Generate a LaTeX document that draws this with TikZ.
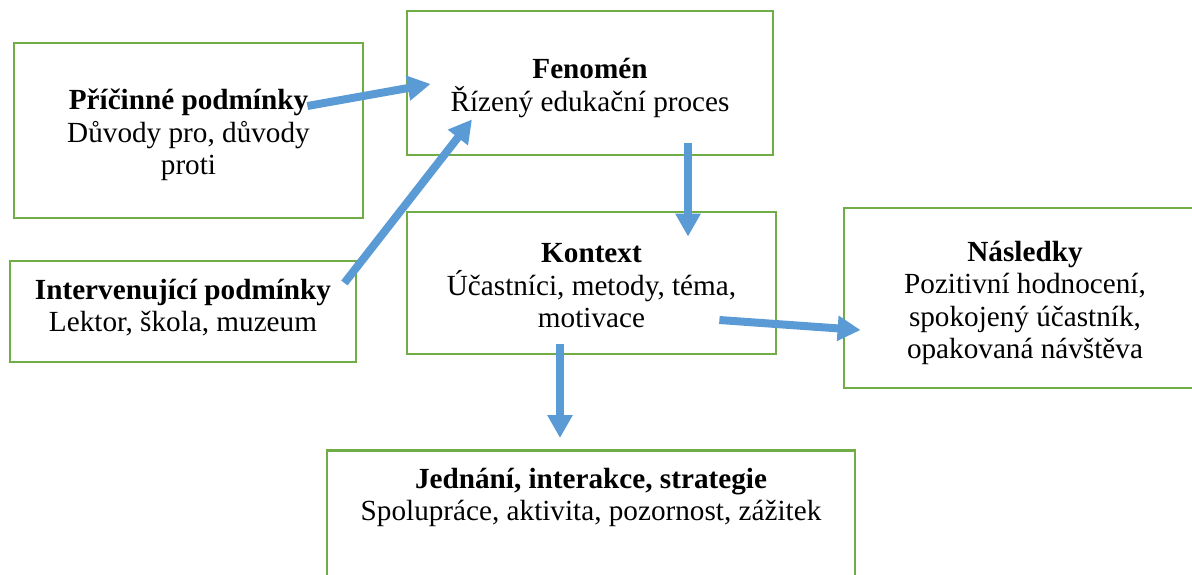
\documentclass[tikz,border=0pt]{standalone}
\usepackage{fontspec}
\setmainfont{Liberation Serif}
\usepackage{xcolor}
\usetikzlibrary{arrows.meta, positioning, calc}
\definecolor{boxgreen}{RGB}{112,173,71}
\definecolor{arrowblue}{RGB}{91,155,213}
% fixed first-line height and last-line depth
\newcommand{\lnhigh}{\rule{0pt}{30pt}}
\newcommand{\lndeep}[1][6pt]{\rule[-#1]{0pt}{#1}}

\begin{document}
\lineskiplimit=-20pt
\begin{tikzpicture}[x=1pt, y=-1pt,
  box/.style={draw=boxgreen, line width=2.8pt, align=center, inner sep=0pt,
    font=\fontsize{29.2}{32.5}\selectfont},
  flow/.style={draw=arrowblue, line width=8pt, -{Triangle[length=23pt,width=24pt]}}]
\useasboundingbox (0,0) rectangle (1192,574);
\clip (0,0) rectangle (1192,574);
% Conditions
\node[box, minimum width=349pt, minimum height=175pt] (pricinne) at (188.5,130.5)
  {\lnhigh\textbf{Příčinné podmínky}\\Důvody pro, důvody\\proti\lndeep};
\node[box, minimum width=346pt, minimum height=101pt] (intervenujici) at (183,311.5)
  {\lnhigh\textbf{Intervenující podmínky}\\Lektor, škola, muzeum\lndeep[22pt]};
% Centre column
\node[box, minimum width=366pt, minimum height=144pt] (fenomen) at (590,83)
  {\lnhigh\textbf{Fenomén}\\Řízený edukační proces\lndeep};
\node[box, minimum width=369pt, minimum height=142pt] (kontext) at (591.5,283)
  {\lnhigh\textbf{Kontext}\\Účastníci, metody, téma,\\motivace\lndeep};
\node[box, minimum width=528pt, anchor=north, inner ysep=8pt, text depth=120pt] (jednani) at (591,449)
  {\lnhigh\textbf{Jednání, interakce, strategie}\\Spolupráce, aktivita, pozornost, zážitek};
% Result
\node[box, minimum width=362pt, minimum height=180pt] (nasledky) at (1025,298)
  {\lnhigh\textbf{Následky}\\Pozitivní hodnocení,\\spokojený účastník,\\opakovaná návštěva\lndeep};
% Arrows
\draw[flow] ($(pricinne.east)+(-57,-24.5)$) -- ($(fenomen.west)+(25,1)$);
\draw[flow] ($(intervenujici.east)+(-13,-28.5)$) -- ($(fenomen.south)+(-118,-37)$);
\draw[flow] ($(fenomen.south)+(98,-13)$) -- ($(kontext.north)+(96.5,26)$);
\draw[flow] ($(kontext.south)+(-31.5,-11)$) -- ($(jednani.north)+(-31,-11)$);
\draw[flow] ($(kontext.east)+(-58,37)$) -- ($(nasledky.west)+(18,32)$);
\end{tikzpicture}
\end{document}
